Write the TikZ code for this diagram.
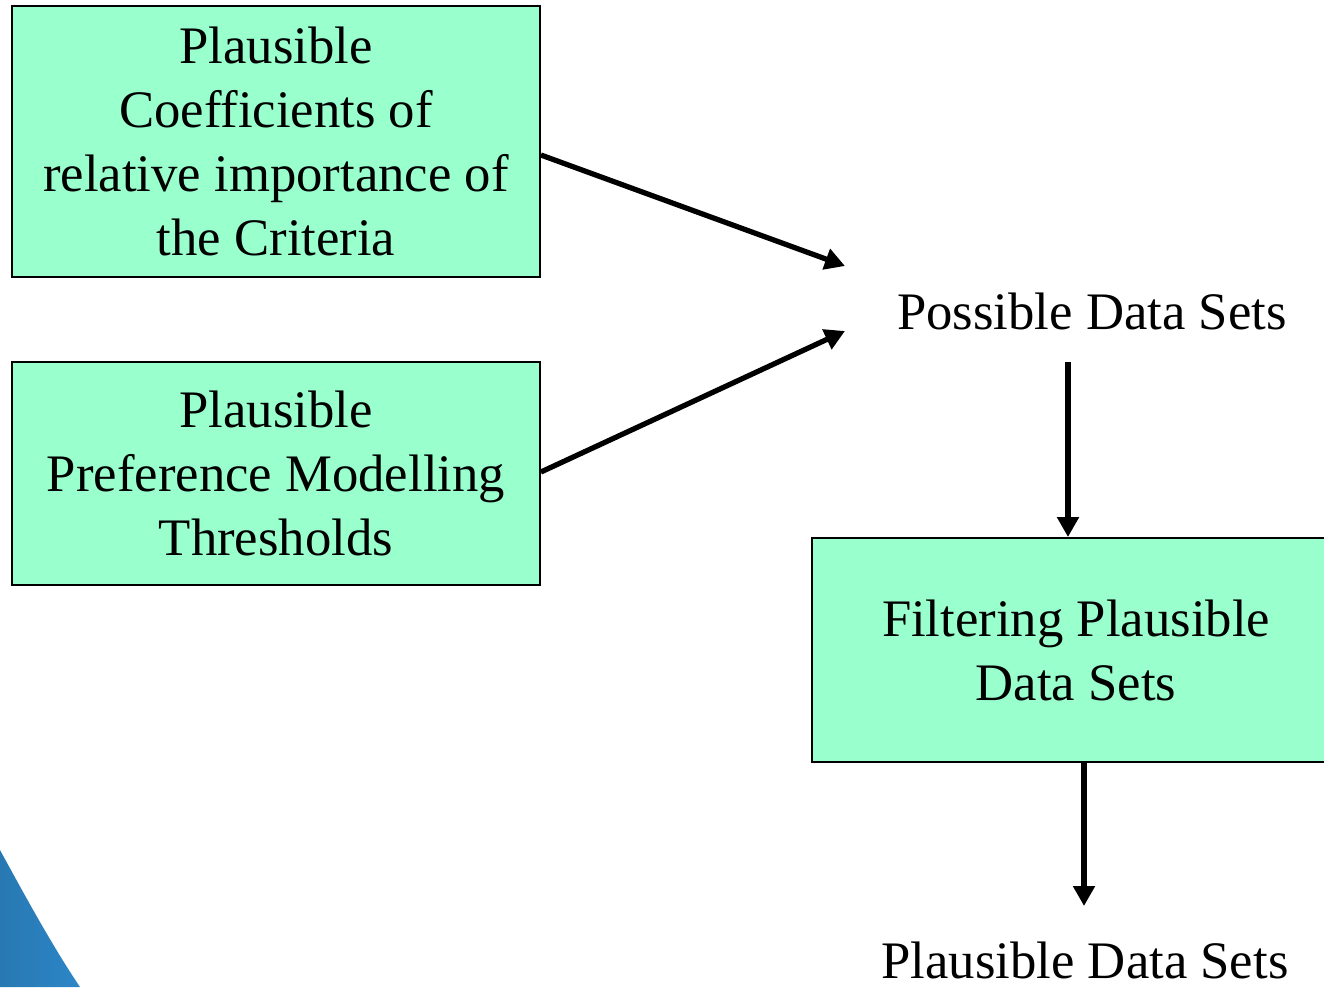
\documentclass[tikz,border=0pt]{standalone}
\usepackage{fontspec}
\setmainfont{Liberation Serif}
\usetikzlibrary{positioning,arrows.meta}
\definecolor{boxmint}{HTML}{99FFCC}
\definecolor{slideblue}{HTML}{2C86C6}

\begin{document}
\begin{tikzpicture}[x=0.02cm,y=-0.02cm,
      box/.style={draw,line width=1.1pt,fill=boxmint,align=center,font=\fontsize{30}{36.4}\selectfont,minimum width=10.56cm,inner sep=0pt},
      lbl/.style={font=\fontsize{30}{36.4}\selectfont,inner sep=0pt},
      flow/.style={line width=3pt,-{Triangle[length=4mm,width=4.2mm]}}]
    \useasboundingbox (0,0) rectangle (1324,987);
    \clip (0,0) rectangle (1324,987);
    % corner of the slide background
    \shade[left color=slideblue!90!black,right color=slideblue] (0,850) .. controls (30,905) and (55,950) .. (80,987) -- (0,987) -- cycle;
    \node[box,minimum height=5.42cm] (coef) at (276,141.5) {Plausible\\Coefficients of\\relative importance of\\the Criteria};
    \node[box,minimum height=4.46cm] (thr) at (276,473.5) {Plausible\\Preference Modelling\\Thresholds};
    \node[lbl] (poss) at (1092,311) {Possible Data Sets};
    \node[box,minimum height=4.48cm] (filt) at (1076,650) {Filtering Plausible\\Data Sets};
    \node[lbl,anchor=north] (plaus) at (1085,942) {Plausible Data Sets};
    \coordinate (in1) at (845,266);
    \coordinate (in2) at (845,331);
    \coordinate (out1) at (1068,362);
    \coordinate (out2) at (1084,906);
    \draw[flow] (coef.east |- 0,155) -- (in1);
    \draw[flow] (thr.east |- 0,472) -- (in2);
    \draw[flow] (out1) -- (out1 |- filt.north);
    \draw[flow] (out2 |- filt.south) -- (out2);
  \end{tikzpicture}
\end{document}
